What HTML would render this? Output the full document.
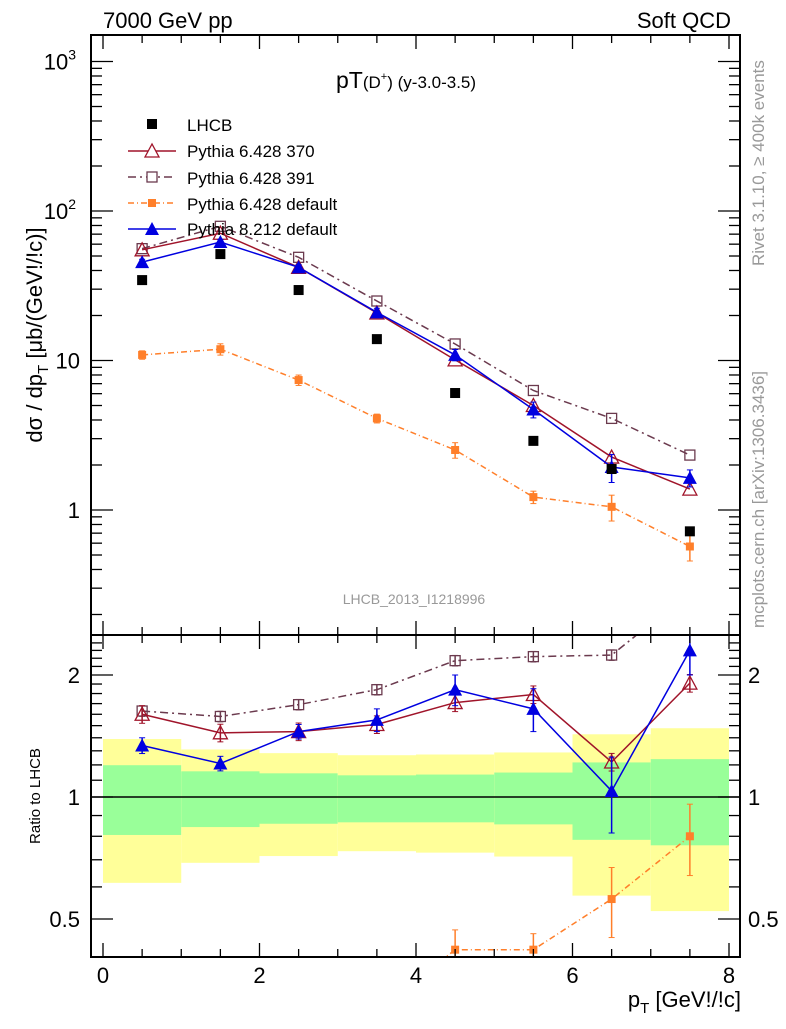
<!DOCTYPE html>
<html><head><meta charset="utf-8"><style>
body{margin:0;background:#fff}
svg text{font-family:"Liberation Sans",sans-serif}
</style></head><body>
<svg id="c" width="786" height="1024" viewBox="0 0 786 1024" xmlns="http://www.w3.org/2000/svg"></svg>
<script>
const xCenters=[0.5,1.5,2.5,3.5,4.5,5.5,6.5,7.5];
const lhcb=[34.5,51.5,29.6,13.9,6.06,2.9,1.88,0.72];
const p370=[55,71,42,20.8,10.1,5.0,2.26,1.38];
const p391=[56,79,49,25,12.9,6.3,4.1,2.33];
const pdef=[10.9,11.9,7.4,4.1,2.52,1.22,1.05,0.57];
const p8=[45.5,62,42,21,10.9,4.7,1.94,1.64];
const r370=[1.60,1.44,1.45,1.51,1.71,1.79,1.22,1.91];
const r391=[1.63,1.58,1.69,1.84,2.17,2.22,2.24,3.2];
const rdef=[0.31,0.23,0.25,0.295,0.42,0.42,0.56,0.80];
const r8=[1.34,1.21,1.45,1.55,1.84,1.65,1.035,2.3];
const r8err=[0.06,0.05,0.06,0.1,0.16,0.2,0.22,0.3];
const rdefErr=[0.02,0.02,0.02,0.02,0.05,0.04,0.11,0.16];
const yelLo=[0.614,0.688,0.715,0.735,0.729,0.713,0.571,0.523];
const yelHi=[1.39,1.31,1.283,1.268,1.273,1.288,1.428,1.478];
const grnLo=[0.806,0.843,0.859,0.866,0.866,0.856,0.784,0.76];
const grnHi=[1.198,1.157,1.144,1.131,1.136,1.149,1.217,1.24];
const xTicks=[0,2,4,6,8];

const S=document.getElementById('c'),NS='http://www.w3.org/2000/svg';
function el(t,a,p){const e=document.createElementNS(NS,t);for(const k in a)e.setAttribute(k,a[k]);(p||S).appendChild(e);return e;}
const L=91,R=740,X0=103,X8=729,MT=35,MB=635,RB=957;
const X=v=>X0+(X8-X0)*v/8;
const Ym=v=>510-149.5*Math.log10(v);
const Yr=v=>797-122*Math.log2(v);
const defs=el('defs',{});
const c1=el('clipPath',{id:'cm'},defs);el('rect',{x:L,y:MT,width:R-L,height:MB-MT},c1);
const c2=el('clipPath',{id:'cr'},defs);el('rect',{x:L,y:MB,width:R-L,height:RB-MB},c2);
const gm=el('g',{'clip-path':'url(#cm)'});
const gr=el('g',{'clip-path':'url(#cr)'});
for(let i=0;i<8;i++){
 const y=el('rect',{x:X(i),width:X(i+1)-X(i),y:Yr(yelHi[i]),height:Yr(yelLo[i])-Yr(yelHi[i]),fill:'#ffff99'},gr);
 
 const g=el('rect',{x:X(i),width:X(i+1)-X(i),y:Yr(grnHi[i]),height:Yr(grnLo[i])-Yr(grnHi[i]),fill:'#99ff99'},gr);
 
}
el('line',{x1:L,x2:R,y1:Yr(1),y2:Yr(1),stroke:'#000','stroke-width':1.5},gr);
function marker(g,type,x,y,col){
 let m;
 if(type==='sq') m=el('rect',{x:x-5,y:y-5,width:10,height:10,fill:col},g);
 else if(type==='osq') m=el('rect',{x:x-5,y:y-5,width:10,height:10,fill:'none',stroke:col,'stroke-width':1.3},g);
 else if(type==='tri') m=el('polygon',{points:`${x},${y-7} ${x-7},${y+6} ${x+7},${y+6}`,fill:col},g);
 else if(type==='otri') m=el('polygon',{points:`${x},${y-7} ${x-7},${y+6} ${x+7},${y+6}`,fill:'none',stroke:col,'stroke-width':1.3},g);
 else m=el('rect',{x:x-4,y:y-4,width:8,height:8,fill:col},g);
 
}
function series(g,xs,vals,Y,col,dash,type,name,err){
 const s=el('g',{},g);
 if(dash!==null){el('polyline',{points:xs.map((x,i)=>X(x)+','+Y(vals[i])).join(' '),fill:'none',stroke:col,'stroke-width':1.5,'stroke-dasharray':dash},s);}
 xs.forEach((x,i)=>{
  if(err){const e=err[i];el('line',{x1:X(x),x2:X(x),y1:Y(vals[i]+e),y2:Y(Math.max(vals[i]-e,0.01)),stroke:col,'stroke-width':1.5},s);
   el('line',{x1:X(x)-3,x2:X(x)+3,y1:Y(vals[i]+e),y2:Y(vals[i]+e),stroke:col},s);
   el('line',{x1:X(x)-3,x2:X(x)+3,y1:Y(Math.max(vals[i]-e,0.01)),y2:Y(Math.max(vals[i]-e,0.01)),stroke:col},s);}
  marker(s,type,X(x),Y(vals[i]),col);});
}
const pdefErrMain=pdef.map((v,i)=>v*rdefErr[i]/rdef[i]);
series(gm,xCenters,pdef,Ym,'#ff7f2a','6,3,1,3','dot','series-pythia6-default',pdefErrMain);
series(gm,xCenters,p391,Ym,'#6b3a4e','8,4,2,4','osq','series-pythia6-391');
series(gm,xCenters,p370,Ym,'#a0142a','','otri','series-pythia6-370');
series(gm,xCenters,p8,Ym,'#0000e0','','tri','series-pythia8',p8.map((v,i)=>v*r8err[i]/r8[i]));
series(gm,xCenters,lhcb,Ym,'#000',null,'sq','series-lhcb');
series(gr,xCenters,rdef,Yr,'#ff7f2a','6,3,1,3','dot','ratio-pythia6-default',rdefErr);
series(gr,xCenters,r391,Yr,'#6b3a4e','8,4,2,4','osq','ratio-pythia6-391',r391.map(v=>v*0.03));
series(gr,xCenters,r370,Yr,'#a0142a','','otri','ratio-pythia6-370',r370.map(v=>v*0.05));
series(gr,xCenters,r8,Yr,'#0000e0','','tri','ratio-pythia8',r8err);
el('rect',{x:L,y:MT,width:R-L,height:MB-MT,fill:'none',stroke:'#000','stroke-width':2});
el('rect',{x:L,y:MB,width:R-L,height:RB-MB,fill:'none',stroke:'#000','stroke-width':2});
for(let v=0;v<=8.001;v+=0.5){const maj=Math.abs(v%2)<0.01;const ln=maj?14:8;
 [[MT,1],[MB,-1],[MB,1],[RB,-1]].forEach(([y,d])=>el('line',{x1:X(v),x2:X(v),y1:y,y2:y+d*ln,stroke:'#000','stroke-width':1.3}));}
xTicks.forEach(v=>{const t=el('text',{x:X(v),y:983,'font-size':22,'text-anchor':'middle'});t.textContent=v;});
for(let d=-1;d<=3;d++)for(let k=1;k<=9;k++){const v=k*Math.pow(10,d),y=Ym(v);if(y<MT||y>MB)continue;const ln=k===1?22:11;
 el('line',{x1:L,x2:L+ln,y1:y,y2:y,stroke:'#000','stroke-width':1.3});el('line',{x1:R,x2:R-ln,y1:y,y2:y,stroke:'#000','stroke-width':1.3});}
[['1',1],['10',10]].forEach(([s,v])=>{const t=el('text',{x:80,y:Ym(v)+8,'font-size':22,'text-anchor':'end'});t.textContent=s;});
[[2,100],[3,1000]].forEach(([e,v])=>{const t=el('text',{x:76,y:Ym(v)+8,'font-size':22,'text-anchor':'end'});t.innerHTML='10<tspan dy="-10" font-size="14">'+e+'</tspan>';});
for(let v=0.4;v<=2.5;v+=0.1){const y=Yr(v);if(y<MB||y>RB)continue;const maj=[0.5,1,2].some(m=>Math.abs(m-v)<0.01);const ln=maj?22:11;
 el('line',{x1:L,x2:L+ln,y1:y,y2:y,stroke:'#000','stroke-width':1.3});el('line',{x1:R,x2:R-ln,y1:y,y2:y,stroke:'#000','stroke-width':1.3});}
[['0.5',0.5],['1',1],['2',2]].forEach(([s,v])=>{const a=el('text',{x:80,y:Yr(v)+8,'font-size':22,'text-anchor':'end'});a.textContent=s;
 const b=el('text',{x:748,y:Yr(v)+8,'font-size':22});b.textContent=s;});
</script>
<svg width="786" height="1024" style="position:absolute;left:0;top:0" xmlns="http://www.w3.org/2000/svg">
<text x="103" y="28" font-size="22" font-family="Liberation Sans">7000 GeV pp</text>
<text x="731" y="28" font-size="22" font-family="Liberation Sans" text-anchor="end">Soft QCD</text>
<text x="336" y="88" font-size="23" font-family="Liberation Sans">pT<tspan font-size="17">(D</tspan><tspan font-size="11" dy="-8">+</tspan><tspan font-size="17" dy="8">) (y-3.0-3.5)</tspan></text>
<text x="414" y="604" font-size="14" fill="#999" font-family="Liberation Sans" text-anchor="middle">LHCB_2013_I1218996</text>
<text transform="translate(42,335) rotate(-90)" font-size="22" font-family="Liberation Sans" text-anchor="middle">dσ / dp<tspan font-size="15" dy="6">T</tspan><tspan dy="-6"> [μb/(GeV!/!c)]</tspan></text>
<text transform="translate(40,796) rotate(-90)" font-size="15" font-family="Liberation Sans" text-anchor="middle">Ratio to LHCB</text>
<text x="741" y="1007" font-size="22" font-family="Liberation Sans" text-anchor="end">p<tspan font-size="15" dy="6">T</tspan><tspan dy="-6"> [GeV!/!c]</tspan></text>
<text transform="translate(764,266) rotate(-90)" font-size="17" fill="#999" font-family="Liberation Sans">Rivet 3.1.10, ≥ 400k events</text>
<text transform="translate(764,628) rotate(-90)" font-size="17" fill="#999" font-family="Liberation Sans">mcplots.cern.ch [arXiv:1306.3436]</text>
<g font-family="Liberation Sans" font-size="17">
<g><rect x="147" y="119" width="10" height="10" fill="#000"/><text x="187" y="131">LHCB</text></g>
<g><line x1="128" x2="176" y1="151" y2="151" stroke="#a0142a" stroke-width="1.5"/><polygon points="152,144 145,157 159,157" fill="#fff" stroke="#a0142a" stroke-width="1.3"/><text x="187" y="157">Pythia 6.428 370</text></g>
<g><line x1="128" x2="176" y1="177" y2="177" stroke="#6b3a4e" stroke-width="1.5" stroke-dasharray="8,4,2,4"/><rect x="147" y="172" width="10" height="10" fill="#fff" stroke="#6b3a4e" stroke-width="1.3"/><text x="187" y="184">Pythia 6.428 391</text></g>
<g><line x1="128" x2="176" y1="203" y2="203" stroke="#ff7f2a" stroke-width="1.5" stroke-dasharray="6,3,1,3"/><rect x="148" y="199" width="8" height="8" fill="#ff7f2a"/><text x="187" y="210">Pythia 6.428 default</text></g>
<g><line x1="128" x2="176" y1="229" y2="229" stroke="#0000e0" stroke-width="1.5"/><polygon points="152,222 145,235 159,235" fill="#0000e0"/><text x="187" y="235">Pythia 8.212 default</text></g>
</g>
</svg>
</body></html>
